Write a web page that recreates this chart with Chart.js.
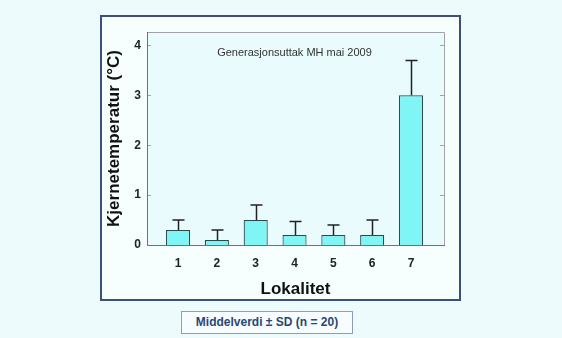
<!DOCTYPE html>
<html>
<head>
<meta charset="utf-8">
<script src="https://cdn.jsdelivr.net/npm/chart.js@4.4.0/dist/chart.umd.min.js"></script>
<style>
  html, body { margin: 0; padding: 0; }
  body { width: 562px; height: 338px; background: #eefbfd; position: relative; overflow: hidden; font-family: "Liberation Sans", Arial, sans-serif; }
  #frame { position: absolute; left: 100px; top: 15px; width: 357px; height: 282px; border: 2px solid #3c4f78; background: #f6fefe; }
  #wrap { position: absolute; left: 0; top: 0; width: 562px; height: 338px; }
  #note { position: absolute; left: 181px; top: 311px; width: 170px; height: 21px; border: 1px solid #8d9db3; background: #f7fdff;
          color: #2a4676; font-weight: bold; font-size: 12px; line-height: 21px; text-align: center; }
</style>
</head>
<body>
<div id="frame"></div>
<div id="wrap"><canvas id="myChart" width="562" height="338"></canvas></div>
<div id="note">Middelverdi ± SD (n = 20)</div>
<script>
// data
const lokaliteter = [1, 2, 3, 4, 5, 6, 7];
const middel = [0.3, 0.1, 0.5, 0.2, 0.2, 0.2, 3.0];
const sd = [0.2, 0.2, 0.3, 0.27, 0.2, 0.3, 0.7];
const yTicks = [0, 1, 2, 3, 4];
const noteText = 'Generasjonsuttak MH mai 2009';

// plot background + frame + inward ticks
const framePlugin = {
    id: 'framePlugin',
    beforeDraw(chart) {
        const a = chart.chartArea;
        const ctx = chart.ctx;
        ctx.save();
        ctx.fillStyle = '#e9fbfc';
        ctx.fillRect(a.left, a.top, a.right - a.left, a.bottom - a.top);
        ctx.restore();
    },
    afterDatasetsDraw(chart) {
        const a = chart.chartArea;
        const ctx = chart.ctx;
        const y = chart.scales.y;
        ctx.save();
        // top and right sides lighter
        ctx.strokeStyle = '#a0a4a6';
        ctx.lineWidth = 1;
        ctx.beginPath();
        ctx.moveTo(a.left, a.top + 0.5);
        ctx.lineTo(a.right + 0.5, a.top + 0.5);
        ctx.lineTo(a.right + 0.5, a.bottom);
        ctx.stroke();
        // ticks pointing in
        yTicks.forEach(v => {
            const py = Math.round(y.getPixelForValue(v)) + 0.5;
            ctx.beginPath();
            ctx.moveTo(a.left, py);
            ctx.lineTo(a.left + 4, py);
            ctx.moveTo(a.right, py);
            ctx.lineTo(a.right - 4, py);
            ctx.stroke();
        });
        // left and bottom axis
        ctx.strokeStyle = '#6e7275';
        ctx.beginPath();
        ctx.moveTo(a.left + 0.5, a.top);
        ctx.lineTo(a.left + 0.5, a.bottom + 0.5);
        ctx.lineTo(a.right + 1, a.bottom + 0.5);
        ctx.stroke();
        // note text
        ctx.fillStyle = '#333333';
        ctx.font = '11px "Liberation Sans", Arial, sans-serif';
        ctx.textAlign = 'center';
        ctx.textBaseline = 'middle';
        ctx.fillText(noteText, (a.left + a.right) / 2 - 1, a.top + 21);
        ctx.restore();
    }
};

// error bars (upward only)
const errorBars = {
    id: 'errorBars',
    afterDatasetsDraw(chart) {
        const ctx = chart.ctx;
        const y = chart.scales.y;
        const meta = chart.getDatasetMeta(0);
        ctx.save();
        ctx.strokeStyle = '#222222';
        ctx.lineWidth = 1.5;
        meta.data.forEach((bar, i) => {
            const top = y.getPixelForValue(middel[i] + sd[i]);
            const x = Math.round(bar.x) + 0.5;
            ctx.beginPath();
            ctx.moveTo(x, bar.y);
            ctx.lineTo(x, top);
            ctx.moveTo(x - 6, top);
            ctx.lineTo(x + 6, top);
            ctx.stroke();
        });
        ctx.restore();
    }
};

const data = {
    datasets: [{
        data: lokaliteter.map((l, i) => ({ x: l, y: middel[i] })),
        backgroundColor: '#80f5f6',
        borderColor: '#2c4a50',
        borderWidth: 1.2,
        categoryPercentage: 1,
        barPercentage: 0.62
    }]
};

const config = {
    type: 'bar',
    data: data,
    options: {
        responsive: false,
        animation: false,
        layout: { padding: { left: 100, top: 32, right: 118, bottom: 34 } },
        plugins: { legend: { display: false }, tooltip: { enabled: false } },
        scales: {
            x: {
                type: 'linear',
                offset: false,
                min: 0.2,
                max: 7.85,
                grid: { display: false, drawTicks: false },
                border: { display: false },
                afterFit: (s) => { s.height = 59; },
                afterBuildTicks: (s) => { s.ticks = lokaliteter.map(v => ({ value: v })); },
                ticks: {
                    padding: 11,
                    color: '#222',
                    font: { family: '"Liberation Sans", Arial, sans-serif', size: 12, weight: 'bold' },
                    callback: (v) => String(v)
                },
                title: {
                    display: true,
                    text: 'Lokalitet',
                    color: '#111',
                    padding: { top: 0, bottom: 4 },
                    font: { family: '"Liberation Sans", Arial, sans-serif', size: 17, weight: 'bold' }
                }
            },
            y: {
                min: 0,
                max: 4.27,
                grid: { display: false, drawTicks: false },
                border: { display: false },
                afterFit: (s) => { s.width = 47; },
                afterBuildTicks: (s) => { s.ticks = yTicks.map(v => ({ value: v })); },
                ticks: {
                    padding: 6,
                    color: '#222',
                    font: { family: '"Liberation Sans", Arial, sans-serif', size: 12, weight: 'bold' }
                },
                title: {
                    display: true,
                    text: 'Kjernetemperatur (°C)',
                    color: '#111',
                    padding: { top: 4, bottom: 0 },
                    font: { family: '"Liberation Sans", Arial, sans-serif', size: 17, weight: 'bold' }
                }
            }
        }
    },
    plugins: [framePlugin, errorBars]
};

const myChart = new Chart(document.getElementById('myChart'), config);
</script>
</body>
</html>
